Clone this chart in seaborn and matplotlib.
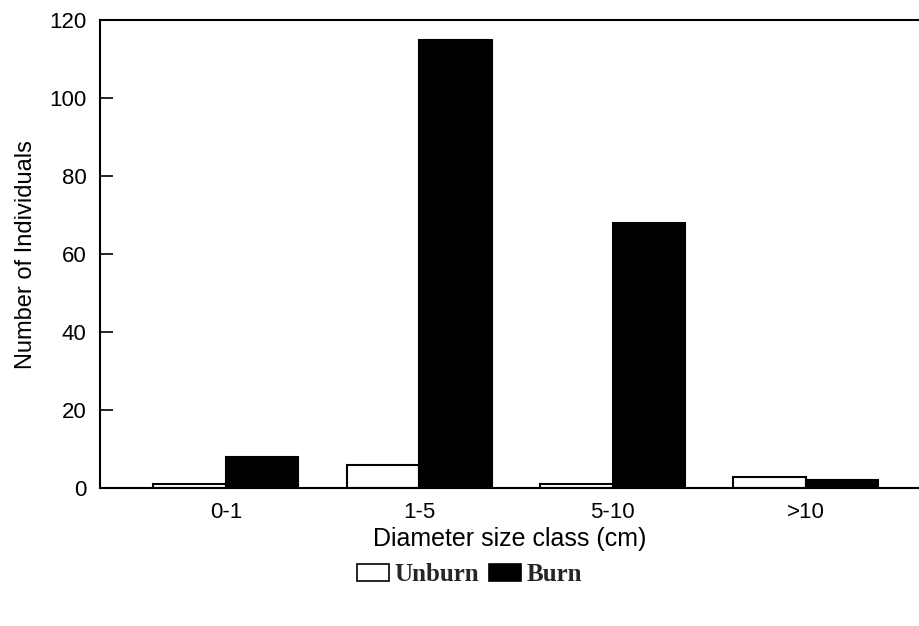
import matplotlib
matplotlib.use("Agg")
import matplotlib.pyplot as plt
import seaborn as sns
import pandas as pd
from matplotlib.patches import Patch

categories = ["0-1", "1-5", "5-10", ">10"]
unburn = [1, 6, 1, 3]
burn = [8, 115, 68, 2]
series_names = ["Unburn", "Burn"]
y_ticks = [0, 20, 40, 60, 80, 100, 120]

df = pd.DataFrame({
    "cls": categories * 2,
    "value": unburn + burn,
    "series": [series_names[0]] * len(categories) + [series_names[1]] * len(categories),
})

sns.set_theme(style="white")
plt.rcParams["font.family"] = ["Liberation Sans", "DejaVu Sans"]

fig = plt.figure(figsize=(9.2, 6.26), dpi=100)
ax = fig.add_axes([0.109, 0.22, 0.891, 0.748])

sns.barplot(data=df, x="cls", y="value", hue="series", order=categories,
            hue_order=series_names, palette=["white", "black"],
            edgecolor="black", linewidth=1.5, width=0.75, ax=ax,
            legend=False)

ax.set_xlim(-0.65, 3.59)
ax.set_ylim(0, 120)
ax.set_yticks(y_ticks)
ax.tick_params(axis="y", direction="in", length=9, width=1.2, labelsize=16,
               left=True, pad=10, colors="black")
ax.tick_params(axis="x", length=0, labelsize=16, pad=10, colors="black")
ax.set_xlabel("Diameter size class (cm)", fontsize=18, labelpad=3, color="black")
ax.set_ylabel("Number of Individuals", fontsize=17, labelpad=9, color="black")

for s in ["left", "bottom", "top"]:
    ax.spines[s].set_visible(True)
    ax.spines[s].set_color("black")
    ax.spines[s].set_linewidth(1.5)
ax.spines["right"].set_visible(False)

handles = [Patch(facecolor="white", edgecolor="black", linewidth=1.2),
           Patch(facecolor="black", edgecolor="black", linewidth=1.2)]
fig.legend(handles, series_names, loc="center", bbox_to_anchor=(0.51, 0.082),
           ncol=2, frameon=False, handlelength=1.3, handleheight=0.7,
           handletextpad=0.2, columnspacing=0.4,
           prop={"family": "Liberation Serif", "size": 18, "weight": "bold"})

fig.savefig("out.png", dpi=100, facecolor="white")
